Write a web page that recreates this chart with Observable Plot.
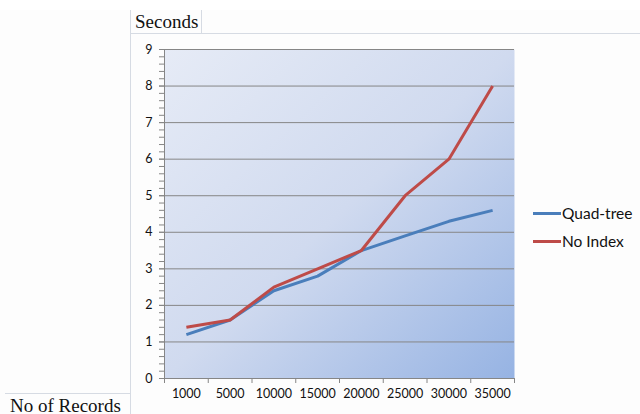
<!DOCTYPE html>
<html>
<head>
<meta charset="utf-8">
<script src="https://cdn.jsdelivr.net/npm/d3@7"></script>
<script src="https://cdn.jsdelivr.net/npm/@observablehq/plot@0.6"></script>
<style>
  html, body { margin: 0; padding: 0; background: #ffffff; }
  #wrap { position: relative; width: 640px; height: 414px; overflow: hidden; }
  #wrap > svg { position: absolute; left: 0; top: 0; }
</style>
</head>
<body>
<div id="wrap"></div>
<script>
// ---- data ----
const records = ["1000", "5000", "10000", "15000", "20000", "25000", "30000", "35000"];
const quadTree = [1.2, 1.6, 2.4, 2.8, 3.5, 3.9, 4.3, 4.6];
const noIndex  = [1.4, 1.6, 2.5, 3.0, 3.5, 5.0, 6.0, 8.0];
const seriesNames  = ["Quad-tree", "No Index"];
const seriesColors = ["#4a7ebb", "#be4b48"];
const yMajorTicks = [0, 1, 2, 3, 4, 5, 6, 7, 8, 9];
const yMinorTicks = d3.range(0, 45 + 1).map(k => k / 5);
const yAxisTitle = "Seconds";
const xAxisTitle = "No of Records";

const rows = records.flatMap((r, i) => [
  {pos: i + 0.5, records: r, series: seriesNames[0], seconds: quadTree[i]},
  {pos: i + 0.5, records: r, series: seriesNames[1], seconds: noIndex[i]}
]);

const axisGray = "#868686";
const font = "Lato, 'Open Sans', sans-serif";

const chart = Plot.plot({
  width: 640,
  height: 414,
  marginLeft: 164,
  marginRight: 126,
  marginTop: 49,
  marginBottom: 36,
  style: {fontFamily: font, fontSize: "12.5px", color: "#111", background: "transparent", overflow: "visible"},
  x: {type: "linear", domain: [0, records.length]},
  y: {domain: [0, 9]},
  color: {domain: seriesNames, range: seriesColors},
  marks: [
    Plot.frame({fill: "url(#bgGrad)", stroke: null}),
    Plot.gridY(yMajorTicks, {stroke: axisGray, strokeOpacity: 1, strokeWidth: 1}),
    Plot.ruleX([0], {stroke: axisGray, strokeWidth: 1}),
    Plot.ruleY([0], {stroke: axisGray, strokeWidth: 1}),
    Plot.axisY({ticks: yMinorTicks, tickSize: 5, tickFormat: () => "", stroke: axisGray, label: null}),
    Plot.axisY({ticks: yMajorTicks, tickSize: 5, tickPadding: 7, stroke: axisGray, label: null, fill: "#111", fontSize: 12.5}),
    Plot.axisX({ticks: d3.range(records.length + 1), tickSize: 5, tickFormat: () => "", stroke: axisGray, label: null}),
    Plot.axisX({ticks: records.map((_, i) => i + 0.5), tickSize: 0, tickPadding: 11,
                tickFormat: d => records[Math.floor(d)], label: null, fill: "#111", fontSize: 12.5}),
    Plot.line(rows.filter(d => d.series === seriesNames[0]), {x: "pos", y: "seconds", stroke: "series", strokeWidth: 3, strokeLinejoin: "round", strokeLinecap: "butt"}),
    Plot.line(rows.filter(d => d.series === seriesNames[1]), {x: "pos", y: "seconds", stroke: "series", strokeWidth: 3, strokeLinejoin: "round", strokeLinecap: "butt"})
  ]
});

d3.select(chart).insert("defs", ":first-child").html(`
  <linearGradient id="bgGrad" x1="0" y1="0" x2="1" y2="1">
    <stop offset="0" stop-color="#e6ebf6"/>
    <stop offset="0.5" stop-color="#d0daef"/>
    <stop offset="1" stop-color="#96b3e3"/>
  </linearGradient>`);

const wrap = document.getElementById("wrap");

// spreadsheet-cell decoration, titles and legend in an overlay
const ov = d3.create("svg").attr("width", 640).attr("height", 414)
  .style("position", "absolute").style("left", 0).style("top", 0);
const cellGray = "#d6dbe3";
ov.append("rect").attr("x", 0).attr("y", 10).attr("width", 640).attr("height", 404).attr("fill", "#fdfdfd");
ov.append("line").attr("x1", 130.5).attr("x2", 130.5).attr("y1", 10).attr("y2", 414).attr("stroke", cellGray);
ov.append("line").attr("x1", 130).attr("x2", 640).attr("y1", 33.5).attr("y2", 33.5).attr("stroke", cellGray);
ov.append("line").attr("x1", 201.5).attr("x2", 201.5).attr("y1", 10).attr("y2", 33).attr("stroke", cellGray);
ov.append("line").attr("x1", 5).attr("x2", 130).attr("y1", 393.5).attr("y2", 393.5).attr("stroke", cellGray);
ov.append("text").attr("x", 135).attr("y", 28).text(yAxisTitle)
  .attr("font-family", "'Liberation Serif', 'DejaVu Serif', serif").attr("font-size", 19).attr("fill", "#111");
ov.append("text").attr("x", 10).attr("y", 411.5).text(xAxisTitle)
  .attr("font-family", "'Liberation Serif', 'DejaVu Serif', serif").attr("font-size", 19).attr("fill", "#111");

const leg = ov.append("g");
seriesNames.forEach((name, k) => {
  const cy = 213.5 + k * 28;
  leg.append("line").attr("x1", 533).attr("x2", 561).attr("y1", cy).attr("y2", cy)
    .attr("stroke", seriesColors[k]).attr("stroke-width", 3);
  leg.append("text").attr("x", 562).attr("y", cy + 5).text(name)
    .attr("font-family", font).attr("font-size", 15.5).attr("fill", "#111");
});

wrap.appendChild(ov.node());
wrap.appendChild(chart);
</script>
</body>
</html>
